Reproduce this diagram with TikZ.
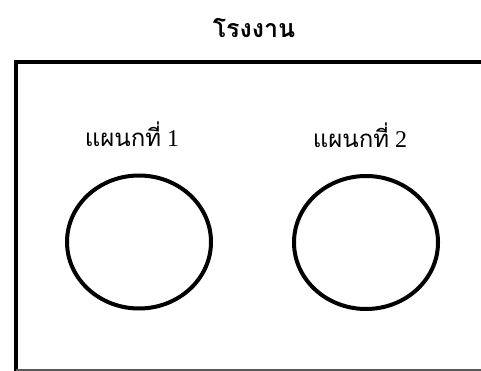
\documentclass[tikz,border=0pt]{standalone}
\usepackage{fontspec}
\usetikzlibrary{shapes.geometric}
\setmainfont{Liberation Serif}
\newfontfamily\thaifont[Script=Thai]{Loma}
\begin{document}
\begin{tikzpicture}[x=1pt,y=-1pt,
  frame/.style={line width=4pt,line cap=rect},
  dept/.style={draw,line width=4pt,ellipse,minimum width=144pt,minimum height=133pt,inner sep=0pt},
  lbl/.style={font=\fontsize{24}{28}\selectfont},
  ttl/.style={font=\thaifont\bfseries\fontsize{25}{30}\selectfont}]
\useasboundingbox (0,0) rectangle (481,371);
\node[ttl] (title) at (254,28) {โรงงาน};
\coordinate (tr) at (483,62);
\coordinate (tl) at (15.5,62);
\coordinate (bl) at (15.5,373);
\draw[frame] (tr) -- (tl) -- (bl);
\coordinate (bl2) at (15.5,370);
\coordinate (br) at (483,370);
\draw[line width=1.2pt,black!65] (bl2) -- (br);
\node[lbl] (l1) at (132,134) {{\thaifont แผนกที่} 1};
\node[lbl] (l2) at (360,135) {{\thaifont แผนกที่} 2};
\node[dept] (c1) at (139,242) {};
\node[dept] (c2) at (366,242.5) {};
\end{tikzpicture}
\end{document}
